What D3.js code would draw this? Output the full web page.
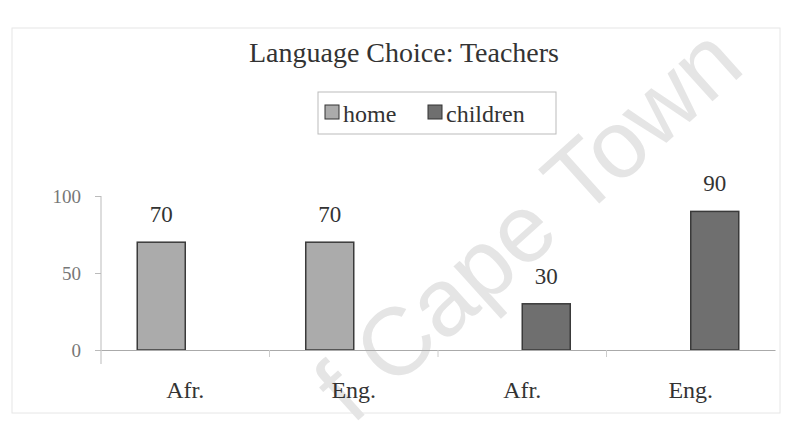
<!DOCTYPE html>
<html>
<head>
<meta charset="utf-8">
<script src="https://cdn.jsdelivr.net/npm/d3@7"></script>
<style>
  body { margin: 0; background: #fff; }
  text { font-family: "Liberation Serif", "Times New Roman", serif; }
</style>
</head>
<body>
<div id="chart"></div>
<script>
// chart data
var categories = ["Afr.", "Eng.", "Afr.", "Eng."];
var series = ["home", "children"];
var homeValues = [70, 70, null, null];
var childrenValues = [null, null, 30, 90];
var yTicks = [0, 50, 100];

var W = 785, H = 422;
var margin = {top: 196, right: 10, bottom: 72, left: 101},
    width = 775 - margin.left,
    height = 350 - margin.top;

var svg = d3.select("#chart").append("svg")
    .attr("width", W)
    .attr("height", H);

// faint frame of the scanned chart
svg.append("rect")
    .attr("x", 12).attr("y", 28)
    .attr("width", 768).attr("height", 385)
    .attr("fill", "none")
    .attr("stroke", "#e6e6e6");

// watermark
svg.append("text")
    .attr("transform", "translate(352,426) rotate(-42)")
    .style("font-family", "'Liberation Sans', Arial, sans-serif")
    .attr("font-size", 96)
    .attr("fill", "#e5e5e5")
    .text("f Cape Town");

var g = svg.append("g")
    .attr("transform", "translate(" + margin.left + "," + margin.top + ")");

var x0 = d3.scaleBand()
    .domain(d3.range(categories.length))
    .range([0, width]);

var x1 = d3.scaleBand()
    .domain(series)
    .range([0, x0.bandwidth()])
    .paddingOuter(0.755);

var y = d3.scaleLinear()
    .domain([0, 100])
    .range([height, 0]);

var colors = {home: "#ababab", children: "#6f6f6f"};
var values = {home: homeValues, children: childrenValues};

// y axis
var yAxis = g.append("g")
    .call(d3.axisLeft(y).tickValues(yTicks).tickSize(6).tickPadding(14));
yAxis.select(".domain").attr("stroke", "#bbb").attr("d", "M0,0V" + (height + 14));
yAxis.selectAll(".tick line").attr("stroke", "#bbb");
yAxis.selectAll(".tick text")
    .style("font-family", "'Liberation Serif', serif")
    .attr("font-size", 19)
    .attr("fill", "#777");

// bars
series.forEach(function(s) {
    var data = values[s].map(function(v, i) { return {i: i, v: v}; })
        .filter(function(d) { return d.v != null; });
    g.selectAll(".bar-" + s)
        .data(data)
        .enter().append("rect")
        .attr("x", function(d) { return x0(d.i) + x1(s); })
        .attr("y", function(d) { return y(d.v); })
        .attr("width", x1.bandwidth())
        .attr("height", function(d) { return height - y(d.v); })
        .attr("fill", colors[s])
        .attr("stroke", "#3a3a3a")
        .attr("stroke-width", 1.5);
    g.selectAll(".lab-" + s)
        .data(data)
        .enter().append("text")
        .attr("x", function(d) { return x0(d.i) + x1(s) + x1.bandwidth() / 2; })
        .attr("y", function(d) { return y(d.v) - 20; })
        .attr("text-anchor", "middle")
        .attr("font-size", 23)
        .attr("fill", "#333")
        .text(function(d) { return d.v; });
});

// x axis
var xAxis = g.append("g")
    .attr("transform", "translate(0," + height + ")")
    .call(d3.axisBottom(x0).tickSize(0).tickPadding(31)
        .tickFormat(function(i) { return categories[i]; }));
xAxis.select(".domain").attr("stroke", "#aaa").attr("stroke-width", 1.2);
xAxis.selectAll(".tick text")
    .style("font-family", "'Liberation Serif', serif")
    .attr("font-size", 24)
    .attr("fill", "#333");
// tick marks between categories
g.selectAll(".xtick")
    .data(d3.range(1, categories.length))
    .enter().append("line")
    .attr("x1", function(i) { return x0(i); })
    .attr("x2", function(i) { return x0(i); })
    .attr("y1", height)
    .attr("y2", height + 7)
    .attr("stroke", "#ccc");

// title
svg.append("text")
    .attr("x", 404).attr("y", 62)
    .attr("text-anchor", "middle")
    .attr("font-size", 28)
    .attr("fill", "#333")
    .text("Language Choice: Teachers");

// legend
var legend = svg.append("g").attr("transform", "translate(318,92)");
legend.append("rect")
    .attr("width", 238).attr("height", 42)
    .attr("fill", "#fff")
    .attr("stroke", "#bbb");
var legendX = {home: 7, children: 110};
series.forEach(function(s) {
    legend.append("rect")
        .attr("x", legendX[s]).attr("y", 13)
        .attr("width", 14).attr("height", 14)
        .attr("fill", colors[s])
        .attr("stroke", "#333");
    legend.append("text")
        .attr("x", legendX[s] + 18).attr("y", 30)
        .attr("font-size", 24)
        .attr("fill", "#333")
        .text(s);
});
</script>
</body>
</html>
